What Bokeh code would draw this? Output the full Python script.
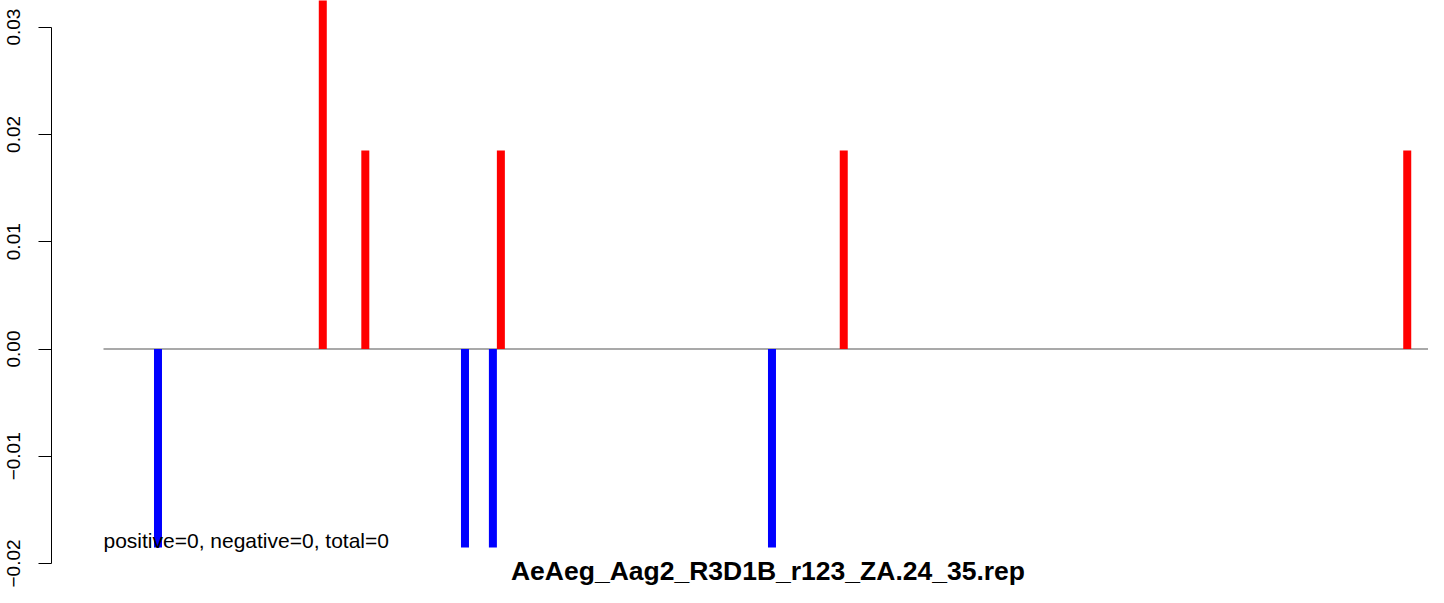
from bokeh.plotting import figure
from bokeh.models import Range1d, FixedTicker, CustomJSTickFormatter, Label, ColumnDataSource
from bokeh.embed import file_html
from bokeh.resources import INLINE

# ---- data ----
positions = [41, 165, 197, 272, 293, 299, 503, 557, 981]
values = [-0.0185, 0.037, 0.0185, -0.0185, -0.0185, 0.0185, -0.0185, 0.0185, 0.0185]
seq_start = 0
seq_end = 1000
y_ticks = [-0.02, -0.01, 0.0, 0.01, 0.02, 0.03]
title_text = "AeAeg_Aag2_R3D1B_r123_ZA.24_35.rep"
summary_text = "positive=0, negative=0, total=0"

colors = ["red" if v > 0 else "blue" for v in values]
src = ColumnDataSource(dict(x=positions, y0=[0] * len(values), y1=values, color=colors))

p = figure(width=1428, height=587, output_backend="svg", toolbar_location=None,
           x_axis_location=None, title=None,
           x_range=Range1d(-39.13, 997.0), y_range=Range1d(-0.022227, 0.03248),
           min_border_left=51, min_border_right=0, min_border_top=0, min_border_bottom=0)
p.outline_line_color = None
p.xgrid.visible = False
p.ygrid.visible = False
p.background_fill_color = "white"
p.border_fill_color = "white"

ax = p.yaxis[0]
ax.ticker = FixedTicker(ticks=y_ticks)
ax.formatter = CustomJSTickFormatter(code="return (tick < -1e-12 ? '\u2212' : '') + Math.abs(tick).toFixed(2);")
ax.bounds = (min(y_ticks), max(y_ticks))
ax.major_tick_out = 13
ax.major_tick_in = 0
ax.minor_tick_line_color = None
ax.axis_line_color = "black"
ax.major_tick_line_color = "black"
ax.major_label_orientation = "vertical"
ax.major_label_text_font = "Liberation Sans"
ax.major_label_text_font_size = "19px"
ax.major_label_text_color = "black"
ax.major_label_standoff = 18

# zero line
p.segment(x0=[seq_start], y0=[0], x1=[seq_end], y1=[0], line_color="#a9a9a9", line_width=2)

# bars
p.segment(x0="x", y0="y0", x1="x", y1="y1", source=src, line_color="color", line_width=8, line_cap="butt")

# summary text
p.add_layout(Label(x=seq_start, y=min(values), y_offset=7, text=summary_text, text_align="left",
                   text_baseline="alphabetic", text_font="Liberation Sans",
                   text_font_size="21px", text_color="black"))

# title below
p.add_layout(Label(x=(seq_start + seq_end) / 2, y=-0.021575, y_offset=10, text=title_text, text_align="center",
                   text_baseline="alphabetic", text_font="Liberation Sans", text_font_style="bold",
                   text_font_size="26.5px", text_color="black"))

open("out.html", "w").write(file_html(p, INLINE))
